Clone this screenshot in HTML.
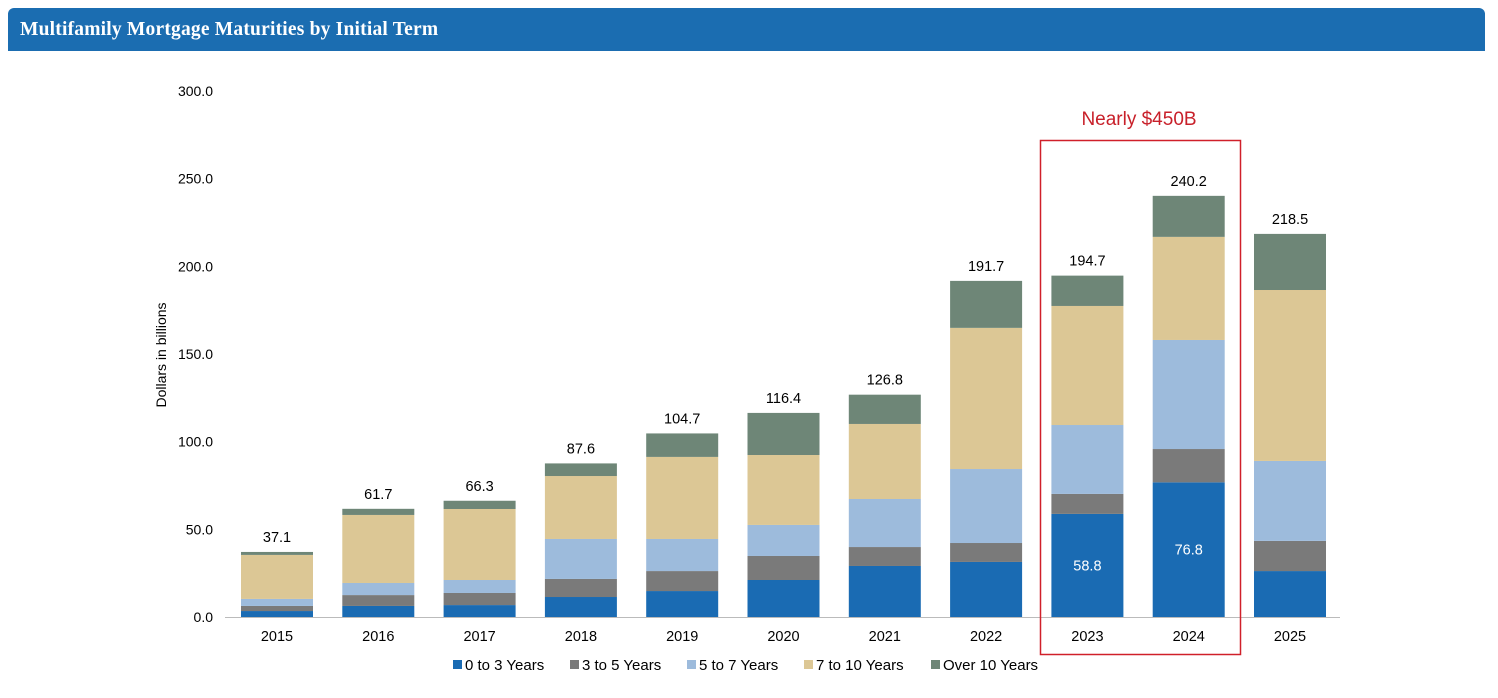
<!DOCTYPE html>
<html><head><meta charset="utf-8"><style>
body{margin:0;background:#fff;width:1498px;height:698px;overflow:hidden;font-family:"Liberation Sans",sans-serif}
#hdr{position:absolute;left:8px;top:8px;width:1477px;height:43px;background:#1b6db1;border-radius:6px 6px 0 0}
#hdr span{position:absolute;left:12px;top:11px;color:#fff;font:bold 19.5px "Liberation Serif",serif;letter-spacing:0.2px}
svg{position:absolute;left:0;top:0}
</style></head><body>
<div id="hdr"><span>Multifamily Mortgage Maturities by Initial Term</span></div>
<svg id="c" width="1498" height="698"></svg>
<script>
const years=["2015","2016","2017","2018","2019","2020","2021","2022","2023","2024","2025"];
const s0to3=[3.4,6.3,6.8,11.4,14.8,21.1,29.1,31.4,58.8,76.8,26.2];
const s3to5=[2.9,6.2,6.9,10.3,11.4,13.7,10.8,10.8,11.4,19.0,17.2];
const s5to7=[4.0,6.9,7.4,22.8,18.3,17.7,27.4,42.2,39.3,62.2,45.6];
const s7to10=[25.1,38.8,40.5,35.9,46.8,39.9,42.8,80.5,67.9,58.8,97.5];
const sOver=[1.7,3.5,4.7,7.2,13.4,24.0,16.7,26.8,17.3,23.4,32.0];
const totals=["37.1","61.7","66.3","87.6","104.7","116.4","126.8","191.7","194.7","240.2","218.5"];
const yTicks=[0,50,100,150,200,250,300];
const seriesNames=["0 to 3 Years","3 to 5 Years","5 to 7 Years","7 to 10 Years","Over 10 Years"];
const colors=["#1a6bb3","#7a7a7a","#9dbbdc","#dcc795","#6e8677"];
const series=[s0to3,s3to5,s5to7,s7to10,sOver];
const svg=document.getElementById('c');const NS="http://www.w3.org/2000/svg";
function y(v){return 617-v*(526/300);}
function x(i){return 277+i*101.3;}
function el(t,a,txt){const e=document.createElementNS(NS,t);for(const k in a)e.setAttribute(k,a[k]);if(txt!==undefined)e.textContent=txt;svg.appendChild(e);return e;}
yTicks.forEach(v=>{const t=el('text',{x:213,y:y(v)+5,'text-anchor':'end','font-size':14,fill:'#000'},v.toFixed(1));

});
const ax=el('line',{x1:225,x2:1340,y1:617.5,y2:617.5,stroke:'#bbb'});


const yt=el('text',{transform:'translate(166,355) rotate(-90)','text-anchor':'middle','font-size':14},'Dollars in billions');


years.forEach((yr,i)=>{let base=0;
 series.forEach((s,k)=>{const r=el('rect',{x:x(i)-36,width:72,y:y(base+s[i]),height:y(base)-y(base+s[i]),fill:colors[k]});
 
 
 base+=s[i];});
 const tl=el('text',{x:x(i),y:y(base)-10,'text-anchor':'middle','font-size':14.5},totals[i]);
 
 
 const xl=el('text',{x:x(i),y:641,'text-anchor':'middle','font-size':14.5},yr);
 
 
 if(yr==="2023"||yr==="2024"){const vl=el('text',{x:x(i),y:y(s0to3[i]/2)+5,'text-anchor':'middle','font-size':14.5,fill:'#fff'},s0to3[i].toFixed(1));
 
 }
});
const box=el('rect',{x:1040.5,y:140.5,width:200,height:514,fill:'none',stroke:'#d0202a','stroke-width':1.5});


const ann=el('text',{x:1139,y:125,'text-anchor':'middle','font-size':19,fill:'#c8202a'},'Nearly $450B');


const lx=[453,570,687,804,931];
seriesNames.forEach((n,k)=>{const r=el('rect',{x:lx[k],y:660,width:9,height:9,fill:colors[k]});


const t=el('text',{x:lx[k]+12,y:670,'font-size':15},n);

});
</script>
</body></html>
